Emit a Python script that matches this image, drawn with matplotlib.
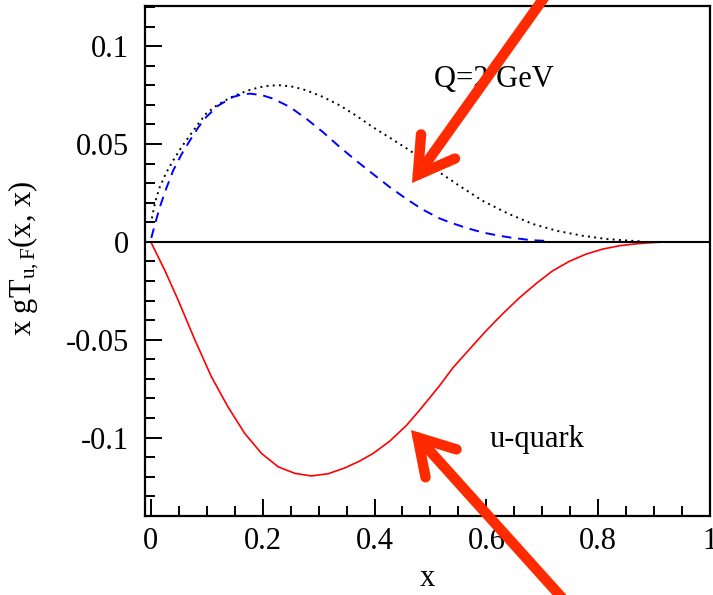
import matplotlib
matplotlib.use('Agg')
import matplotlib.pyplot as plt
from matplotlib.ticker import MultipleLocator

# values
x_dot = [0.002, 0.008, 0.016, 0.028, 0.040, 0.055, 0.070, 0.085, 0.099, 0.115, 0.130, 0.145,
         0.159, 0.177, 0.195, 0.212, 0.230, 0.255, 0.278, 0.308, 0.338, 0.367, 0.397, 0.430,
         0.463, 0.490, 0.516, 0.555, 0.593, 0.638, 0.683, 0.728, 0.772, 0.816, 0.861, 0.880]
y_dot = [0.012, 0.0205, 0.0279, 0.0355, 0.0415, 0.0484, 0.0544, 0.0603, 0.0655, 0.0691, 0.0718, 0.0740,
         0.0757, 0.0776, 0.0790, 0.0798, 0.0800, 0.0792, 0.0774, 0.0740, 0.0697, 0.0645, 0.0586, 0.0527,
         0.0467, 0.0410, 0.0355, 0.0280, 0.0210, 0.0145, 0.0091, 0.0055, 0.0031, 0.0014, 0.0005, 0.0002]

x_dash = [0.001, 0.008, 0.016, 0.028, 0.040, 0.055, 0.070, 0.085, 0.099, 0.120, 0.147, 0.162,
          0.177, 0.198, 0.218, 0.248, 0.278, 0.308, 0.338, 0.367, 0.397, 0.427, 0.457, 0.486,
          0.516, 0.534, 0.560, 0.580, 0.600, 0.623, 0.645, 0.670, 0.690, 0.713]
y_dash = [0.002, 0.0095, 0.0176, 0.0275, 0.0364, 0.0447, 0.0518, 0.0585, 0.0637, 0.0695, 0.0740, 0.0752,
          0.0757, 0.0750, 0.0732, 0.0690, 0.0629, 0.0560, 0.0484, 0.0415, 0.0347, 0.0280, 0.0219, 0.0165,
          0.0120, 0.0100, 0.0075, 0.0058, 0.0044, 0.0031, 0.0021, 0.0012, 0.0007, 0.0004]

x_red = [0.0, 0.025, 0.049, 0.079, 0.1085, 0.138, 0.168, 0.198, 0.228, 0.258, 0.287, 0.317,
         0.347, 0.372, 0.397, 0.427, 0.457, 0.480, 0.516, 0.540, 0.570, 0.599, 0.629, 0.659,
         0.689, 0.718, 0.748, 0.778, 0.808, 0.838, 0.868, 0.897, 0.923]
y_red = [0.0, -0.0145, -0.0298, -0.0502, -0.0690, -0.0843, -0.0979, -0.1081, -0.1150, -0.1183,
         -0.1196, -0.1185, -0.1155, -0.1122, -0.1082, -0.1019, -0.0938, -0.0862, -0.0736, -0.0644,
         -0.0548, -0.0456, -0.0368, -0.0286, -0.0213, -0.0149, -0.0100, -0.0063, -0.0037, -0.0020,
         -0.0010, -0.0004, 0.0]

plt.rcParams['font.family'] = ['Liberation Serif', 'DejaVu Serif']
plt.rcParams['mathtext.fontset'] = 'custom'
plt.rcParams['mathtext.rm'] = 'Liberation Serif'
plt.rcParams['mathtext.it'] = 'Liberation Serif:italic'

fig = plt.figure(figsize=(7.13, 5.95), dpi=100)
ax = fig.add_axes([0.204, 0.133, 0.792, 0.857])

ax.plot(x_dot, y_dot, color='black', lw=1.4, linestyle=(0, (1, 2.2)))
ax.plot(x_dash, y_dash, color='#0000ff', lw=1.4, linestyle=(0, (5, 3.5)))
ax.plot(x_red, y_red, color='#ff0000', lw=1.2)
ax.axhline(0, color='black', lw=1.5)

ax.set_xlim(-0.0095, 1.0)
ax.set_ylim(-0.14, 0.1205)

ax.xaxis.set_minor_locator(MultipleLocator(0.05))
ax.yaxis.set_minor_locator(MultipleLocator(0.01))
ax.set_xticks([0, 0.2, 0.4, 0.6, 0.8, 1.0], ['0', '0.2', '0.4', '0.6', '0.8', '1'])
ax.set_yticks([-0.1, -0.05, 0, 0.05, 0.1], ['-0.1', '-0.05', '0', '0.05', '0.1'])

ax.tick_params(which='both', direction='in', top=False, right=False, width=1.4, labelsize=22)
ax.tick_params(which='major', length=12)
ax.tick_params(which='minor', length=7)
ax.tick_params(axis='y', pad=12)
ax.tick_params(axis='x', pad=8)
for sp in ax.spines.values():
    sp.set_linewidth(1.6)

ax.set_xlabel('x', fontsize=22, labelpad=6)
ax.set_ylabel(r'x gT$_{\mathrm{u,F}}$(x, x)', fontsize=22)
ax.yaxis.set_label_coords(-0.185, 0.505)

ax.text(0.614, 0.079, 'Q=2 GeV', fontsize=22, ha='center', va='baseline')
ax.text(0.69, -0.1047, 'u-quark', fontsize=22, ha='center', va='baseline')

# red hand-drawn style arrows
arrow = dict(arrowstyle='->,head_length=2.5,head_width=1.5', mutation_scale=10,
             color='#ff2a00', lw=7.5, capstyle='round', joinstyle='miter',
             shrinkA=0, shrinkB=0)
ax.annotate('', xy=(412, 412), xycoords='figure pixels', xytext=(546, 600),
            textcoords='figure pixels', arrowprops=arrow, annotation_clip=False)
ax.annotate('', xy=(411, 165), xycoords='figure pixels', xytext=(564, -5),
            textcoords='figure pixels', arrowprops=arrow, annotation_clip=False)

fig.savefig('out.png', dpi=100)
